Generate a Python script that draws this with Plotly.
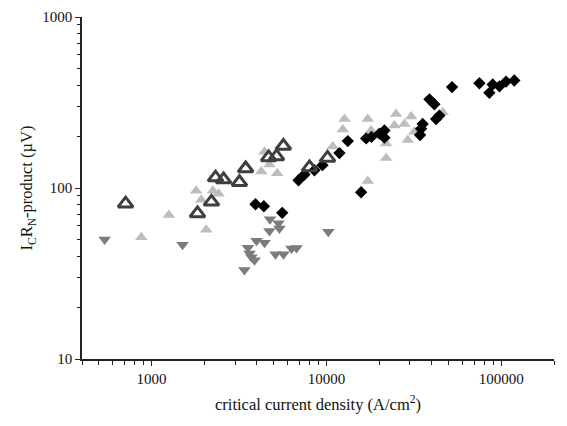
import plotly.graph_objects as go

# Open dark triangles
open_x = [710, 1830, 2200, 2320, 2580, 3180, 3450, 4670, 5180, 5670, 8000, 10140]
open_y = [81, 71, 83, 115, 112, 108, 130, 151, 153, 176, 132, 150]

# Light gray filled up-triangles
light_x = [873, 1256, 1800, 2053, 1923, 2240, 2414, 4236, 4720, 4425, 5225,
           10860, 12390, 12680, 17220, 18000, 17220, 21930, 21930, 25000,
           24470, 27920, 30500, 29170, 31850, 46200]
light_y = [51.6, 69.5, 96.5, 57, 85.3, 96.5, 92.4, 125, 137, 163, 122,
           175, 220, 253, 253, 217, 110, 182, 150, 271,
           232, 237, 262, 191, 213, 277]

# Medium gray down-triangles
down_x = [539, 1503, 4755, 5320, 4720, 5380, 3980, 4425, 3557, 3630, 3727,
          3880, 3396, 5110, 5680, 6310, 6740, 10250]
down_y = [50, 46.6, 65.6, 62.2, 56.1, 58, 49.1, 47.9, 44.8, 41.4, 39.3,
          37.8, 33.1, 41, 41, 44.3, 44.6, 55.4]

# Black diamonds
dia_x = [3927, 4385, 5585, 6920, 7485, 8535, 9485, 11860, 13240, 15780,
         16860, 18070, 20100, 21440, 21440, 34300, 34750, 35480, 42350, 44240,
         38800, 41400, 52240, 74900, 85400, 89200, 97500, 106400, 118600]
dia_y = [80.3, 78.2, 71.6, 111, 120, 127, 136, 160, 188, 94.5,
         195, 199, 208, 217, 197, 204, 222, 237, 253, 265,
         330, 309, 389, 410, 360, 403, 393, 419, 425]

x_ticks = [1000, 10000, 100000]
y_ticks = [10, 100, 1000]

fig = go.Figure()
fig.add_trace(go.Scatter(x=light_x, y=light_y, mode="markers",
                         marker=dict(symbol="triangle-up", size=11, color="#bdbdbd",
                                     line=dict(width=0))))
fig.add_trace(go.Scatter(x=down_x, y=down_y, mode="markers",
                         marker=dict(symbol="triangle-down", size=11, color="#7c7c7c",
                                     line=dict(width=0))))
fig.add_trace(go.Scatter(x=dia_x, y=dia_y, mode="markers",
                         marker=dict(symbol="diamond", size=9.5, color="#000000",
                                     line=dict(width=0))))
fig.add_trace(go.Scatter(x=open_x, y=open_y, mode="markers",
                         marker=dict(symbol="triangle-up-open", size=13, color="#3f3f3f",
                                     line=dict(width=3, color="#3f3f3f"))))

fam = "Liberation Serif, Times New Roman, serif"
tickfont = dict(family=fam, size=15, color="#111")
titlefont = dict(family=fam, size=16.5, color="#111")

fig.update_layout(
    width=567, height=426,
    margin=dict(l=82, r=13, t=9, b=67),
    paper_bgcolor="white", plot_bgcolor="white",
    showlegend=False,
    font=tickfont,
    xaxis=dict(type="log", range=[2.60206, 5.30103],
               tickvals=x_ticks, ticktext=[str(v) for v in x_ticks],
               ticks="outside", ticklen=5, tickwidth=1.3, tickcolor="#222",
               showline=True, linecolor="#222", linewidth=1.5,
               showgrid=False, zeroline=False,
               minor=dict(ticks="outside", ticklen=4, tickwidth=1.2, tickcolor="#222",
                          dtick="D1", showgrid=False),
               title=dict(text="critical current density (A/cm<sup>2</sup>)",
                          font=titlefont, standoff=13),
               tickfont=tickfont),
    yaxis=dict(type="log", range=[1, 3],
               tickvals=y_ticks, ticktext=[str(v) for v in y_ticks],
               ticks="outside", ticklen=5, tickwidth=1.3, tickcolor="#222",
               showline=True, linecolor="#222", linewidth=1.5,
               showgrid=False, zeroline=False,
               minor=dict(ticks="outside", ticklen=3, tickwidth=1.2, tickcolor="#222",
                          dtick="D1", showgrid=False),
               title=dict(text="I<sub>C</sub>R<sub>N</sub>-product (µV)",
                          font=titlefont, standoff=5),
               tickfont=tickfont),
)

fig.write_html("out.html")
